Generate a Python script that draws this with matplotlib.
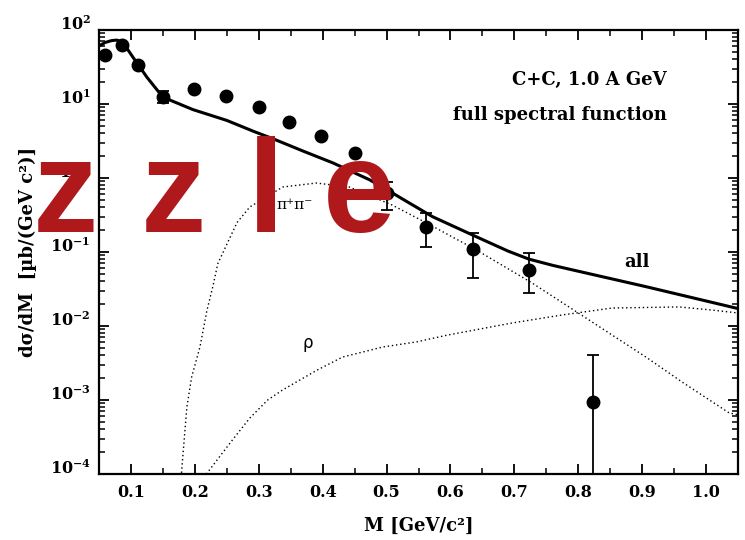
import matplotlib
matplotlib.use("Agg")
import matplotlib.pyplot as plt
from matplotlib.ticker import MultipleLocator, LogLocator, FormatStrFormatter, NullFormatter

data_m = [0.059, 0.086, 0.111, 0.150, 0.198, 0.248, 0.300, 0.348, 0.398, 0.450, 0.500, 0.5625, 0.636, 0.723, 0.823]
data_y = [45.9, 62.7, 33.7, 12.4, 16.0, 12.8, 9.1, 5.7, 3.7, 2.18, 0.62, 0.218, 0.110, 0.057, 9.4e-4]
data_lo = [45.9, 62.7, 33.7, 10.3, 16.0, 12.8, 9.1, 5.7, 3.7, 2.18, 0.37, 0.117, 0.0446, 0.0279, 1e-6]
data_hi = [45.9, 62.7, 33.7, 15.0, 16.0, 12.8, 9.1, 5.7, 3.7, 2.18, 0.88, 0.336, 0.181, 0.097, 4.06e-3]

# model curves
all_m = [0.050, 0.060, 0.070, 0.078, 0.084, 0.090, 0.103, 0.125, 0.145, 0.161, 0.197, 0.228, 0.250,
         0.294, 0.322, 0.370, 0.416, 0.473, 0.505, 0.525, 0.572, 0.641, 0.690, 0.723, 0.760, 0.800,
         0.906, 1.050]
all_y = [61, 68, 72, 73, 70, 63, 43, 23, 14, 11.3, 8.4, 6.9, 6.0,
         4.2, 3.4, 2.3, 1.6, 0.95, 0.66, 0.52, 0.30, 0.16, 0.103, 0.080, 0.066, 0.055,
         0.034, 0.0172]

pipi_m = [0.178, 0.1875, 0.195, 0.208, 0.219, 0.228, 0.236, 0.266, 0.286, 0.3375, 0.390, 0.442,
          0.509, 0.5625, 0.641, 0.728, 0.800, 0.906, 0.9625, 1.036, 1.050]
pipi_y = [8e-5, 8.0e-4, 2.05e-3, 5.2e-3, 0.0164, 0.0337, 0.070, 0.25, 0.406, 0.755, 0.855, 0.755,
          0.43, 0.247, 0.106, 0.038, 0.015, 3.8e-3, 1.75e-3, 6.7e-4, 6.3e-4]

rho_m = [0.214, 0.259, 0.286, 0.314, 0.3375, 0.390, 0.431, 0.494, 0.547, 0.594, 0.697, 0.775,
         0.853, 0.958, 1.010, 1.050]
rho_y = [9e-5, 2.9e-4, 5.7e-4, 1.0e-3, 1.37e-3, 2.5e-3, 3.8e-3, 5.2e-3, 6.1e-3, 7.5e-3, 0.011, 0.0141,
         0.0175, 0.0181, 0.0164, 0.0150]

plt.rcParams.update({
    "font.family": ["DejaVu Serif"],
    "font.weight": "bold",
    "axes.labelweight": "bold",
    "mathtext.fontset": "custom",
    "mathtext.rm": "DejaVu Serif:bold",
    "mathtext.it": "DejaVu Serif:italic:bold",
    "mathtext.bf": "DejaVu Serif:bold",
    "xtick.direction": "in",
    "ytick.direction": "in",
    "xtick.top": True,
    "ytick.right": True,
})

fig = plt.figure(figsize=(7.45, 5.4), dpi=100)
ax = fig.add_axes([99 / 745, 66 / 540, 639 / 745, 444 / 540])

ax.plot(all_m, all_y, color="black", lw=2.2, solid_capstyle="round", solid_joinstyle="round")
ax.plot(pipi_m, pipi_y, color="black", lw=1.0, ls=(0, (1, 2)))
ax.plot(rho_m, rho_y, color="black", lw=1.0, ls=(0, (1, 2)))

err_low = [y - lo for y, lo in zip(data_y, data_lo)]
err_high = [hi - y for y, hi in zip(data_y, data_hi)]
ax.errorbar(data_m, data_y, yerr=[err_low, err_high], fmt="o", color="black",
            ms=9, capsize=4, elinewidth=1.3, capthick=1.3)

ax.set_yscale("log")
ax.set_xlim(0.05, 1.05)
ax.set_ylim(1e-4, 1e2)
ax.xaxis.set_major_locator(MultipleLocator(0.1))
ax.xaxis.set_minor_locator(MultipleLocator(0.05))
ax.xaxis.set_major_formatter(FormatStrFormatter("%.1f"))
ax.yaxis.set_major_locator(LogLocator(base=10))
ax.yaxis.set_minor_locator(LogLocator(base=10, subs=range(2, 10)))
ax.yaxis.set_minor_formatter(NullFormatter())

ax.tick_params(which="major", length=7, width=1.3, labelsize=11.5)
ax.tick_params(which="minor", length=4, width=1.1)
ax.tick_params(axis="x", pad=7)
ax.tick_params(axis="y", pad=6)
for sp in ax.spines.values():
    sp.set_linewidth(1.6)
for t in ax.yaxis.get_major_ticks():
    t.label1.set_verticalalignment("baseline")

ax.set_xlabel("M [GeV/c²]", fontsize=13, fontweight="bold", labelpad=12)
ax.set_ylabel("dσ/dM  [µb/(GeV c²)]", fontsize=13, fontweight="bold", labelpad=9)

ax.text(0.889, 0.887, "C+C, 1.0 A GeV", transform=ax.transAxes, ha="right", va="center", fontsize=13)
ax.text(0.889, 0.809, "full spectral function", transform=ax.transAxes, ha="right", va="center", fontsize=13)
ax.text(0.892, 0.0733, "all", ha="center", va="center", fontsize=13)
ax.text(0.327, 0.43, "π⁺π⁻", ha="left", va="center", fontsize=11, fontweight="normal")
ax.text(0.377, 5.9e-3, "ρ", ha="center", va="center", fontsize=12, fontweight="normal",
        family=["DejaVu Sans"])

# red overlay letters on top of the plot
for ch, cx in zip(["z", "z", "l", "e"], [65.5, 173.5, 266, 359.5]):
    fig.text(cx / 745, 1 - 232 / 540, ch, ha="center", va="baseline", fontsize=94,
             fontweight="bold", color="#b0191b", family=["Liberation Sans", "DejaVu Sans"])

fig.savefig("out.png", dpi=100)
